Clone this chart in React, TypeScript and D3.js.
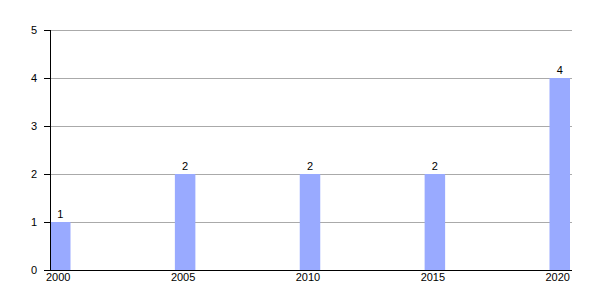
import React from "react";
import * as d3 from "d3";

const years = [2000, 2005, 2010, 2015, 2020];
const values = [1, 2, 2, 2, 4];
const yTicks = [0, 1, 2, 3, 4, 5];

export default function App() {
  const W = 600, H = 300;
  const left = 50, right = 570, top = 30, bottom = 270;
  const barW = 20.5;
  const x = d3.scaleLinear().domain([2000, 2020]).range([left, right - barW]);
  const y = d3.scaleLinear().domain([0, 5]).range([bottom, top]);
  const font = "Liberation Sans, Arial, sans-serif";
  return (
    <svg width={W} height={H} style={{ position: "absolute", left: 0, top: 0 }}>
      <rect width={W} height={H} fill="#fff" />
      {yTicks.map((t) => (
        <g key={t}>
          {t > 0 && (
            <line x1={left} x2={right + 2} y1={y(t) + 0.5} y2={y(t) + 0.5} stroke="#aaa" strokeWidth={1} />
          )}
          <line x1={left - 6} x2={left} y1={y(t) + 0.5} y2={y(t) + 0.5} stroke="#000" />
          <text x={37} y={y(t)} dy="0.35em" textAnchor="end" fontFamily={font} fontSize={11} fill="#000">
            {t}
          </text>
        </g>
      ))}
      {years.map((yr, i) => (
        <g key={yr}>
          <rect x={x(yr)} y={y(values[i])} width={barW} height={y(0) - y(values[i])} fill="#99aaff" />
          <text x={x(yr) + barW / 2} y={y(values[i]) - 4} textAnchor="middle" fontFamily={font} fontSize={11} fill="#000">
            {values[i]}
          </text>
          <text x={x(yr) + barW / 2 - 2} y={bottom + 11} textAnchor="middle" fontFamily={font} fontSize={11} fill="#000">
            {yr}
          </text>
        </g>
      ))}
      <line x1={left + 0.5} x2={left + 0.5} y1={top} y2={bottom} stroke="#000" />
      <line x1={left} x2={right + 2} y1={bottom + 0.5} y2={bottom + 0.5} stroke="#000" />
    </svg>
  );
}
